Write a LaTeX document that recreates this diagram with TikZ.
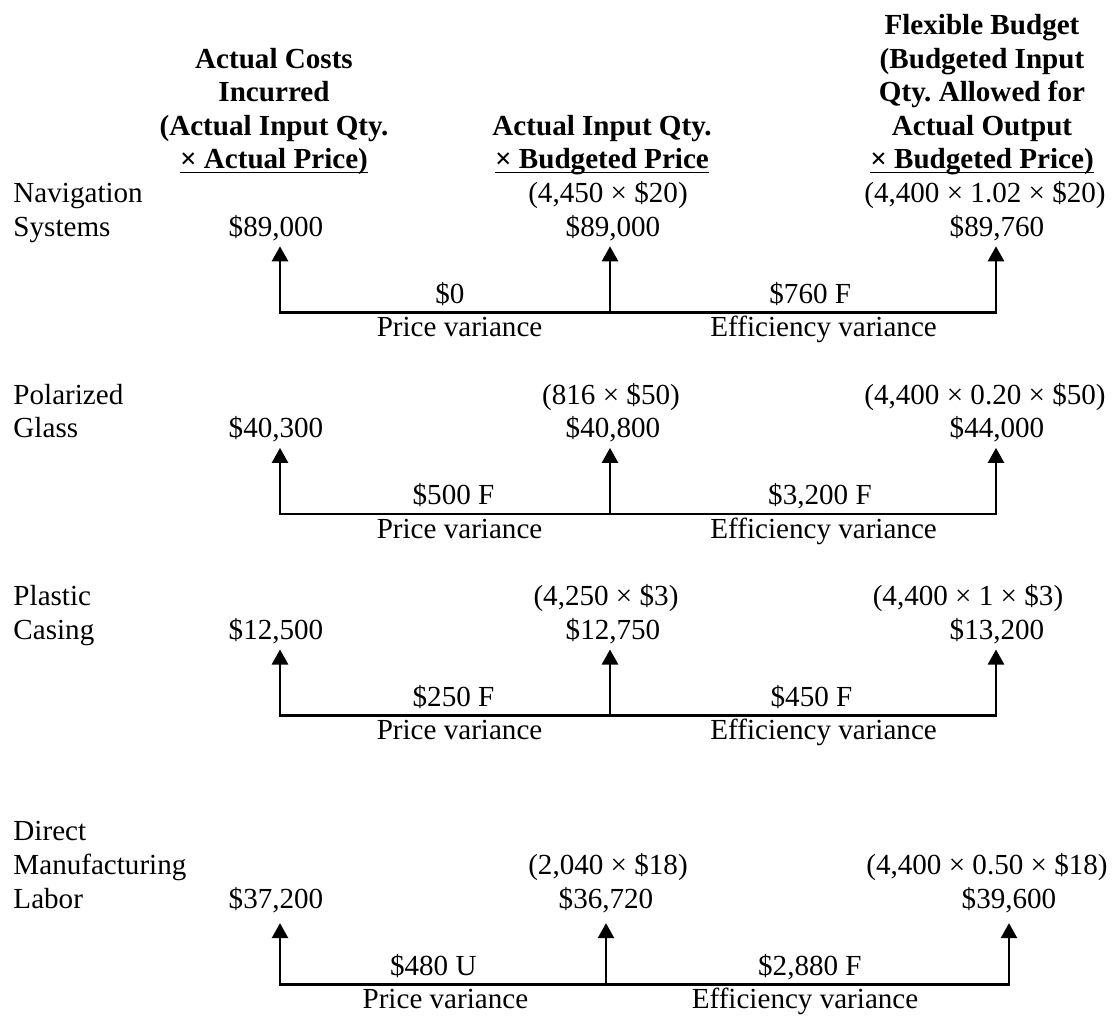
\documentclass[tikz,border=0pt]{standalone}
\usepackage{fontspec}
\setmainfont{Liberation Serif}
\usetikzlibrary{arrows.meta}
\frenchspacing
\newcommand{\hdline}[1]{\underline{\smash{#1}}}

\begin{document}
\begin{tikzpicture}[
        x=0.4124pt, y=-0.4124pt,
        every node/.style={font=\fontsize{12}{13.86}\selectfont, inner sep=0pt},
        head/.style={
            align=center, anchor=base,
            font=\fontsize{12}{13.86}\selectfont\bfseries
        },
        item/.style={align=left, anchor=base west},
        val/.style={anchor=base, text depth=0pt, inner ysep=4pt},
        amt/.style={midway, anchor=base, yshift=3.7pt},
        var/.style={midway, anchor=base, yshift=-10.1pt},
        up/.style={-{Triangle[width=6.6pt, length=6.2pt]}, line width=1.1pt}
    ]
        \useasboundingbox (0,0) rectangle (1113,1017);

        % column headings (anchored on their last line)
        \node[head] (hA) at (274,168.9)
            {Actual Costs\\Incurred\\(Actual Input Qty.\\\hdline{× Actual Price)}};
        \node[head] (hB) at (602,168.9)
            {Actual Input Qty.\\\hdline{× Budgeted Price}};
        \node[head] (hC) at (982,168.9)
            {Flexible Budget\\(Budgeted Input\\Qty. Allowed for\\Actual Output\\\hdline{× Budgeted Price)}};

        % navigation systems
        \node[item] (nav) at (13,236.1) {Navigation\\Systems};
        \node[val] (navA) at (276,236.1) {\$89,000};
        \node[val] (navBq) at (608,202.5) {(4,450 × \$20)};
        \node[val] (navB) at (613,236.1) {\$89,000};
        \node[val] (navCq) at (985,202.5) {(4,400 × 1.02 × \$20)};
        \node[val] (navC) at (997,236.1) {\$89,760};
        \coordinate (navL) at (280,312.3);
        \coordinate (navM) at (610,312.3);
        \coordinate (navR) at (996,312.3);
        \draw[up] (navM) -- node[amt, xshift=2pt]{\$0} node[var, xshift=6pt]{Price variance} (navL) -- (navL |- navA.south);
        \draw[up] (navM) -- node[amt, xshift=3pt]{\$760 F} node[var, xshift=8.5pt]{Efficiency variance} (navR) -- (navR |- navC.south);
        \draw[up] (navM) -- (navM |- navB.south);

        % polarized glass
        \node[item] (pol) at (13,437.7) {Polarized\\Glass};
        \node[val] (polA) at (276,437.7) {\$40,300};
        \node[val] (polBq) at (611,404.1) {(816 × \$50)};
        \node[val] (polB) at (613,437.7) {\$40,800};
        \node[val] (polCq) at (985,404.1) {(4,400 × 0.20 × \$50)};
        \node[val] (polC) at (997,437.7) {\$44,000};
        \coordinate (polL) at (280,513.9);
        \coordinate (polM) at (610,513.9);
        \coordinate (polR) at (996,513.9);
        \draw[up] (polM) -- node[amt, xshift=3.5pt]{\$500 F} node[var, xshift=6pt]{Price variance} (polL) -- (polL |- polA.south);
        \draw[up] (polM) -- node[amt, xshift=7pt]{\$3,200 F} node[var, xshift=8.5pt]{Efficiency variance} (polR) -- (polR |- polC.south);
        \draw[up] (polM) -- (polM |- polB.south);

        % plastic casing
        \node[item] (pla) at (13,639.3) {Plastic\\Casing};
        \node[val] (plaA) at (276,639.3) {\$12,500};
        \node[val] (plaBq) at (606,605.7) {(4,250 × \$3)};
        \node[val] (plaB) at (613,639.3) {\$12,750};
        \node[val] (plaCq) at (968,605.7) {(4,400 × 1 × \$3)};
        \node[val] (plaC) at (997,639.3) {\$13,200};
        \coordinate (plaL) at (280,715.5);
        \coordinate (plaM) at (610,715.5);
        \coordinate (plaR) at (996,715.5);
        \draw[up] (plaM) -- node[amt, xshift=3.5pt]{\$250 F} node[var, xshift=6pt]{Price variance} (plaL) -- (plaL |- plaA.south);
        \draw[up] (plaM) -- node[amt, xshift=3.5pt]{\$450 F} node[var, xshift=8.5pt]{Efficiency variance} (plaR) -- (plaR |- plaC.south);
        \draw[up] (plaM) -- (plaM |- plaB.south);

        % direct manufacturing labor
        \node[item] (dml) at (13,908.1) {Direct\\Manufacturing\\Labor};
        \node[val] (dmlA) at (276,908.1) {\$37,200};
        \node[val] (dmlBq) at (608,874.5) {(2,040 × \$18)};
        \node[val] (dmlB) at (606,908.1) {\$36,720};
        \node[val] (dmlCq) at (987,874.5) {(4,400 × 0.50 × \$18)};
        \node[val] (dmlC) at (1009,908.1) {\$39,600};
        \coordinate (dmlL) at (280,984.3);
        \coordinate (dmlM) at (606,984.3);
        \coordinate (dmlR) at (1009,984.3);
        \draw[up, shorten >=2pt] (dmlM) -- node[amt, xshift=-4pt]{\$480 U} node[var, xshift=1pt]{Price variance} (dmlL) -- (dmlL |- dmlA.south);
        \draw[up, shorten >=2pt] (dmlM) -- node[amt, xshift=1pt]{\$2,880 F} node[var, xshift=-1pt]{Efficiency variance} (dmlR) -- (dmlR |- dmlC.south);
        \draw[up, shorten >=2pt] (dmlM) -- (dmlM |- dmlB.south);
    \end{tikzpicture}
\end{document}
